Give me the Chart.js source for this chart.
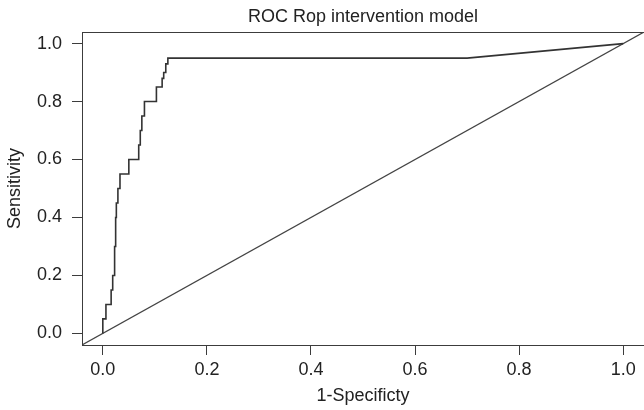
<!DOCTYPE html>
<html>
<head>
<meta charset="utf-8">
<script src="https://cdn.jsdelivr.net/npm/chart.js@4.4.1/dist/chart.umd.min.js"></script>
<style>
  html, body { margin: 0; padding: 0; background: #fff; }
  #wrap { width: 644px; height: 410px; }
</style>
</head>
<body>
<div id="wrap"><canvas id="roc" width="644" height="410"></canvas></div>
<script>
// --- DATA ---
const chartTitle = "ROC Rop intervention model";
const xLabel = "1-Specificty";
const yLabel = "Sensitivity";

const xTicks = [0.0, 0.2, 0.4, 0.6, 0.8, 1.0];
const yTicks = [0.0, 0.2, 0.4, 0.6, 0.8, 1.0];
const axisMin = -0.04, axisMax = 1.04;

// ROC curve corners (1-specificity, sensitivity)
const rocFpr = [0, 0, 0.006, 0.006, 0.016, 0.016, 0.019, 0.019, 0.022, 0.022,
  0.023, 0.023, 0.024, 0.024, 0.025, 0.025, 0.026, 0.026, 0.029, 0.029,
  0.033, 0.033, 0.050, 0.050, 0.069, 0.069, 0.072, 0.072, 0.075, 0.075,
  0.080, 0.080, 0.103, 0.103, 0.114, 0.114, 0.117, 0.117, 0.121, 0.121,
  0.125, 0.125, 0.700, 1.0];
const rocTpr = [0, 0.05, 0.05, 0.10, 0.10, 0.15, 0.15, 0.20, 0.20, 0.25,
  0.25, 0.30, 0.30, 0.35, 0.35, 0.40, 0.40, 0.45, 0.45, 0.50,
  0.50, 0.55, 0.55, 0.60, 0.60, 0.65, 0.65, 0.70, 0.70, 0.75,
  0.75, 0.80, 0.80, 0.85, 0.85, 0.88, 0.88, 0.90, 0.90, 0.93,
  0.93, 0.95, 0.95, 1.0];

// reference line y = x, across the whole plot box
const refX = [axisMin, axisMax];
const refY = [axisMin, axisMax];

const ink = "#3c3c3c";
const textInk = "#222";
const fontFam = "'Liberation Sans', Arial, Helvetica, sans-serif";

// draws the R-style box round the plot region
const boxPlugin = {
  id: "box",
  afterDatasetsDraw(chart) {
    const a = chart.chartArea;
    const ctx = chart.ctx;
    ctx.save();
    ctx.strokeStyle = ink;
    ctx.lineWidth = 1;
    ctx.strokeRect(Math.round(a.left) + 0.5, Math.round(a.top) + 0.5,
      Math.round(a.right - a.left), Math.round(a.bottom - a.top));
    ctx.restore();
  }
};

Chart.defaults.font.family = fontFam;
Chart.defaults.color = textInk;

new Chart(document.getElementById("roc"), {
  type: "scatter",
  data: {
    datasets: [
      {
        data: rocFpr.map((x, i) => ({ x: x, y: rocTpr[i] })),
        showLine: true,
        borderColor: "#333",
        borderWidth: 1.6,
        pointRadius: 0,
        tension: 0
      },
      {
        data: refX.map((x, i) => ({ x: x, y: refY[i] })),
        showLine: true,
        borderColor: "#444",
        borderWidth: 1.2,
        pointRadius: 0,
        tension: 0
      }
    ]
  },
  options: {
    responsive: false,
    animation: false,
    devicePixelRatio: 1,
    layout: { padding: 0 },
    plugins: {
      legend: { display: false },
      tooltip: { enabled: false },
      title: {
        display: true,
        text: chartTitle,
        fullSize: false,
        color: textInk,
        font: { size: 18, weight: "normal", lineHeight: 1.2 },
        padding: { top: 6, bottom: 4.4 }
      }
    },
    scales: {
      x: {
        type: "linear",
        min: axisMin,
        max: axisMax,
        afterBuildTicks: (s) => { s.ticks = xTicks.map(v => ({ value: v })); },
        afterFit: (s) => { s.height = 65; },
        ticks: {
          color: textInk,
          font: { size: 18 },
          padding: 4,
          maxRotation: 0,
          callback: (v) => Number(v).toFixed(1)
        },
        grid: { display: true, drawOnChartArea: false, drawTicks: true, tickLength: 10, color: ink, lineWidth: 1 },
        border: { display: false },
        title: { display: true, text: xLabel, color: textInk, font: { size: 18 }, padding: { top: 0, bottom: 3 } }
      },
      y: {
        type: "linear",
        min: axisMin,
        max: axisMax,
        afterBuildTicks: (s) => { s.ticks = yTicks.map(v => ({ value: v })); },
        afterFit: (s) => { s.width = 82; },
        ticks: {
          color: textInk,
          font: { size: 18 },
          padding: 10,
          callback: (v) => Number(v).toFixed(1)
        },
        grid: { display: true, drawOnChartArea: false, drawTicks: true, tickLength: 10, color: ink, lineWidth: 1 },
        border: { display: false },
        title: { display: true, text: yLabel, color: textInk, font: { size: 18 }, padding: { top: 4, bottom: 0 } }
      }
    }
  },
  plugins: [boxPlugin]
});
</script>
</body>
</html>
